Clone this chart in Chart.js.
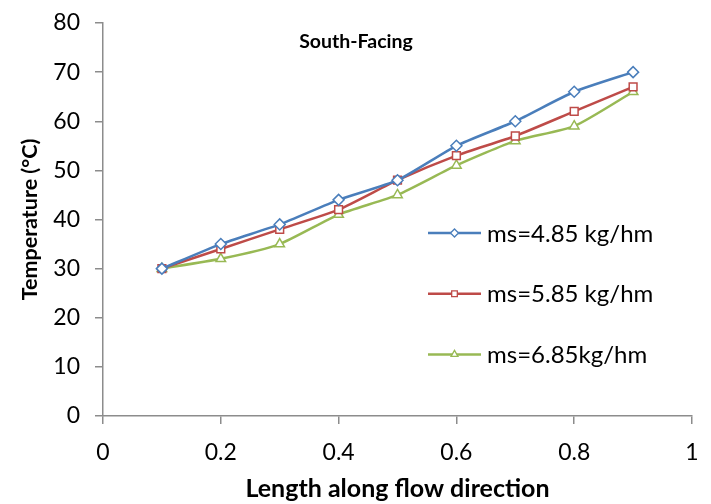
<!DOCTYPE html>
<html>
<head>
<meta charset="utf-8">
<script src="https://cdn.jsdelivr.net/npm/chart.js@4/dist/chart.umd.min.js"></script>
<style>
html,body{margin:0;padding:0;background:#fff;}
#wrap{width:711px;height:504px;position:relative;}
</style>
</head>
<body>
<div id="wrap"><canvas id="c" width="711" height="504"></canvas></div>
<script>
const lengths = [0.1, 0.2, 0.3, 0.4, 0.5, 0.6, 0.7, 0.8, 0.9];
const ms485 = [30, 35, 39, 44, 48, 55, 60, 66, 70];
const ms585 = [30, 34, 38, 42, 48, 53, 57, 62, 67];
const ms685 = [30, 32, 35, 41, 45, 51, 56, 59, 66];
const seriesLabels = ['ms=4.85 kg/hm', 'ms=5.85 kg/hm', 'ms=6.85kg/hm'];
const chartTitle = 'South-Facing';
const xTitle = 'Length along flow direction';
const yTitle = 'Temperature (°C)';

const colors = ['#4A7EBB', '#BE4B48', '#98B954'];
const shapes = ['rectRot', 'rect', 'triangle'];
const seriesData = [ms485, ms585, ms685];

const datasets = seriesData.map((vals, i) => ({
  label: seriesLabels[i],
  data: lengths.map((x, j) => ({x: x, y: vals[j]})),
  borderColor: colors[i],
  backgroundColor: '#ffffff',
  borderWidth: 2.5,
  pointStyle: shapes[i],
  pointRadius: 5.5,
  pointBorderWidth: 1.5,
  pointBackgroundColor: '#ffffff',
  pointBorderColor: colors[i],
  tension: 0.2,
  fill: false
}));

const FONT = 'Lato, "Open Sans", sans-serif';

const overlay = {
  id: 'overlay',
  afterDraw(chart) {
    const ctx = chart.ctx;
    const a = chart.chartArea;
    ctx.save();
    // title
    ctx.fillStyle = '#000';
    ctx.font = 'bold 19.5px ' + FONT;
    ctx.textAlign = 'center';
    ctx.textBaseline = 'middle';
    ctx.fillText(chartTitle, a.left + 253, a.top + 19);
    // legend
    chart.data.datasets.forEach((ds, i) => {
      const y = a.top + 210 + i * 60.7;
      const x0 = a.left + 325, x1 = a.left + 378;
      ctx.strokeStyle = ds.borderColor;
      ctx.lineWidth = ds.borderWidth;
      ctx.beginPath();
      ctx.moveTo(x0, y);
      ctx.lineTo(x1, y);
      ctx.stroke();
      ctx.lineWidth = 1.3;
      ctx.fillStyle = '#ffffff';
      Chart.helpers.drawPoint(ctx, {pointStyle: ds.pointStyle, radius: 4, borderWidth: 1.3}, (x0 + x1) / 2, y);
      ctx.fillStyle = '#000';
      ctx.font = '24px ' + FONT;
      ctx.textAlign = 'left';
      ctx.textBaseline = 'middle';
      ctx.fillText(ds.label, a.left + 384, y + 1);
    });
    ctx.restore();
  }
};

new Chart(document.getElementById('c'), {
  type: 'line',
  data: {datasets: datasets},
  plugins: [overlay],
  options: {
    responsive: false,
    animation: false,
    layout: {padding: {left: 0, right: 19, top: 23, bottom: 0}},
    plugins: {legend: {display: false}, title: {display: false}, tooltip: {enabled: false}},
    scales: {
      x: {
        type: 'linear',
        min: 0, max: 1,
        ticks: {stepSize: 0.2, color: '#000', font: {family: FONT, size: 23}, padding: 15, maxRotation: 0,
          callback: v => (Math.round(v * 10) / 10).toString()},
        grid: {display: true, drawOnChartArea: false, drawTicks: true, tickLength: 8, color: '#8c8c8c', lineWidth: 1.5},
        border: {display: true, color: '#8c8c8c', width: 1.5},
        title: {display: true, text: xTitle, color: '#000', font: {family: FONT, size: 25, weight: 'bold'}, padding: {top: 0, bottom: 0}},
        afterFit: s => { s.height = 88; s.paddingLeft = 0; s.paddingRight = 6; }
      },
      y: {
        min: 0, max: 80,
        ticks: {stepSize: 10, color: '#000', font: {family: FONT, size: 23}, padding: 15},
        grid: {display: true, drawOnChartArea: false, drawTicks: true, tickLength: 8, color: '#8c8c8c', lineWidth: 1.5},
        border: {display: true, color: '#8c8c8c', width: 1.5},
        title: {display: true, text: yTitle, color: '#000', font: {family: FONT, size: 21.5, weight: 'bold'}, padding: {top: 17, bottom: 0}},
        afterFit: s => { s.width = 103; s.paddingTop = 12; s.paddingBottom = 0; }
      }
    }
  }
});
</script>
</body>
</html>
